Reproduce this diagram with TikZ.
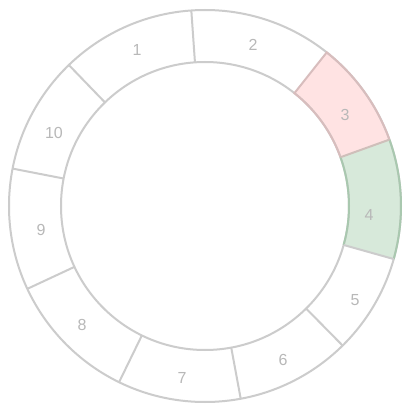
\documentclass[tikz,border=0pt]{standalone}
\usepackage{fontspec}
\setmainfont{Liberation Sans}
\definecolor{ringgray}{HTML}{CCCCCC}
\definecolor{txtgray}{HTML}{B8B8B8}
\definecolor{pinkfill}{HTML}{FFE3E3}
\definecolor{pinkedge}{HTML}{D8BDBD}
\definecolor{greenfill}{HTML}{D7E9DA}
\definecolor{greenedge}{HTML}{A9C8AF}
\tikzset{
  ring/.style={draw=ringgray, line width=2pt},
  divider/.style={draw=ringgray, line width=2pt},
  seglabel/.style={font=\fontsize{16}{16}\selectfont, text=txtgray},
}
\newcommand{\Ro}{196}
\newcommand{\Ri}{144}
\begin{document}
\begin{tikzpicture}[x=1pt,y=1pt]
\useasboundingbox (-205,-204) rectangle (205,206);
\fill[white] (-205,-204) rectangle (205,206);
% coloured segments
\fill[pinkfill] (19.8:\Ro) arc[start angle=19.8, end angle=51.6, radius=\Ro] -- (51.6:\Ri) arc[start angle=51.6, end angle=19.8, radius=\Ri] -- cycle;
\fill[greenfill] (-15.7:\Ro) arc[start angle=-15.7, end angle=19.8, radius=\Ro] -- (19.8:\Ri) arc[start angle=19.8, end angle=-15.7, radius=\Ri] -- cycle;
% rings
\draw[ring] (0,0) circle[radius=\Ro];
\draw[ring] (0,0) circle[radius=\Ri];
% coloured outlines
\draw[draw=pinkedge, line width=2pt] (19.8:\Ro) arc[start angle=19.8, end angle=51.6, radius=\Ro] -- (51.6:\Ri) arc[start angle=51.6, end angle=19.8, radius=\Ri];
\draw[draw=greenedge, line width=2pt] (-15.7:\Ro) arc[start angle=-15.7, end angle=19.8, radius=\Ro] (19.8:\Ri) arc[start angle=19.8, end angle=-15.7, radius=\Ri];
\draw[draw=pinkedge!80!greenedge, line width=2pt] (19.8:\Ri) -- (19.8:\Ro);
% dividers
\foreach \a in {94,-15.7,-45.4,-79.5,-116,-155,169,134}{
  \draw[divider] (\a:\Ri) -- (\a:\Ro);
}
% labels
\node[seglabel] (l1) at (-68,156) {1};
\node[seglabel] (l2) at (48,161) {2};
\node[seglabel] (l3) at (140,91) {3};
\node[seglabel] (l4) at (164,-9) {4};
\node[seglabel] (l5) at (150,-94) {5};
\node[seglabel] (l6) at (78,-154) {6};
\node[seglabel] (l7) at (-23,-172) {7};
\node[seglabel] (l8) at (-123,-119) {8};
\node[seglabel] (l9) at (-164,-24) {9};
\node[seglabel] (l10) at (-151,73) {10};
\end{tikzpicture}
\end{document}
